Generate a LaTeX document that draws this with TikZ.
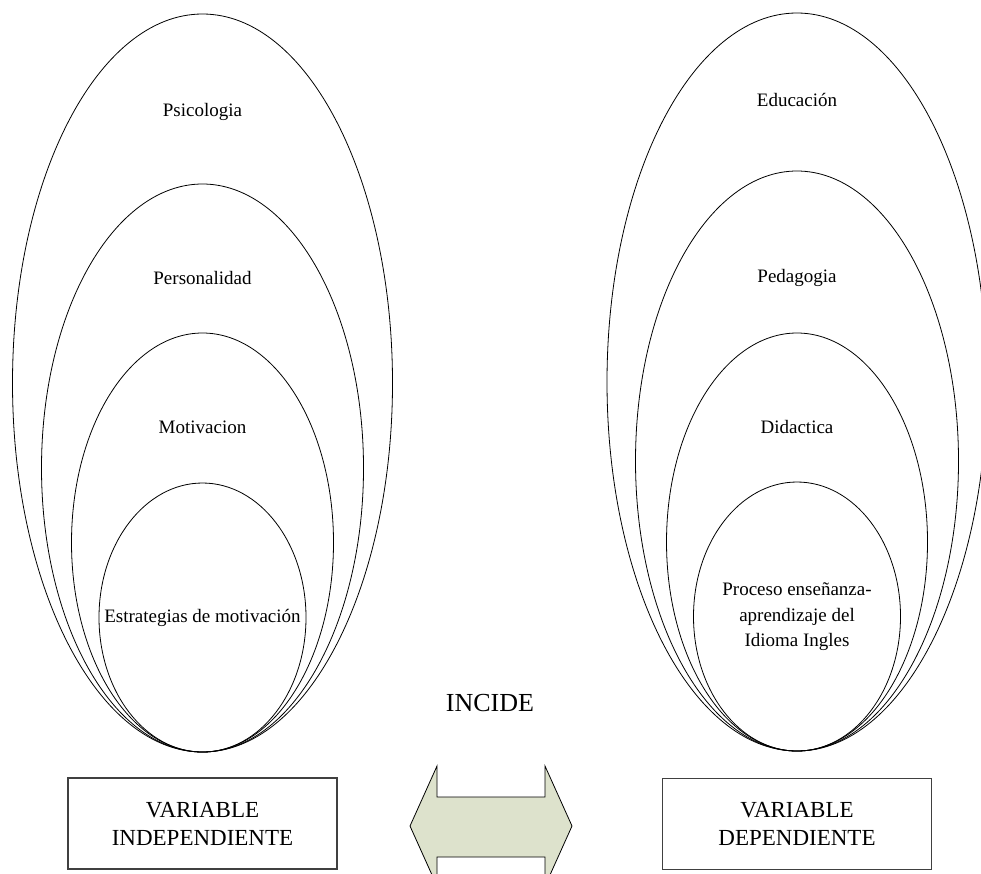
\documentclass[tikz,border=0pt]{standalone}
\usepackage{fontspec}
\setmainfont{Liberation Serif}
\usepackage{tikz}

\definecolor{arrowfill}{RGB}{221,226,204}

\begin{document}
\begin{tikzpicture}[x=1pt,y=-1pt,
	ring/.style={line width=0.8pt},
	ringlabel/.style={font=\fontsize{19}{25.5}\selectfont,align=center},
	varbox/.style={draw=black!75,line width=1.1pt,minimum width=269,minimum height=91,
		align=center,font=\fontsize{23}{28}\selectfont}]
	\useasboundingbox (0,0) rectangle (981,873);
	\clip (0,0) rectangle (981,873);
	% left side
	\draw[ring] (202.5,383) ellipse [x radius=190, y radius=369];
	\draw[ring] (202.5,468) ellipse [x radius=161, y radius=284];
	\draw[ring] (202.5,542.5) ellipse [x radius=131, y radius=209.5];
	\draw[ring] (202.5,617.5) ellipse [x radius=103.5, y radius=134.5];
	\node[ringlabel] (psico) at (202.5,112) {Psicologia};
	\node[ringlabel] (person) at (202.5,278) {Personalidad};
	\node[ringlabel] (motiv) at (202.5,427) {Motivacion};
	\node[ringlabel] (estrat) at (202.5,618) {Estrategias de motivación};
	% right side
	\draw[ring] (797,382) ellipse [x radius=190, y radius=369];
	\draw[ring] (797,461) ellipse [x radius=161.5, y radius=290];
	\draw[ring] (797,542) ellipse [x radius=130.5, y radius=209];
	\draw[ring] (797,616.5) ellipse [x radius=103.5, y radius=134.5];
	\node[ringlabel] (educ) at (797,100) {Educación};
	\node[ringlabel] (pedag) at (797,278) {Pedagogia};
	\node[ringlabel] (didac) at (797,427) {Didactica};
	\node[ringlabel] (proceso) at (797,617) {Proceso enseñanza-\\aprendizaje del\\Idioma Ingles};
	% variables
	\node[varbox] (indep) at (202.5,823.5) {VARIABLE\\INDEPENDIENTE};
	\node[varbox] (dep) at (797,824) {VARIABLE\\DEPENDIENTE};
	\node[font=\fontsize{26}{30}\selectfont] (incide) at (490,703) {INCIDE};
	\draw[fill=arrowfill,line width=0.8pt] (410,826)--(437,766)--(437,797)--(545,797)--(545,766)
		--(572,826)--(545,886)--(545,857)--(437,857)--(437,886)--cycle;
\end{tikzpicture}
\end{document}
